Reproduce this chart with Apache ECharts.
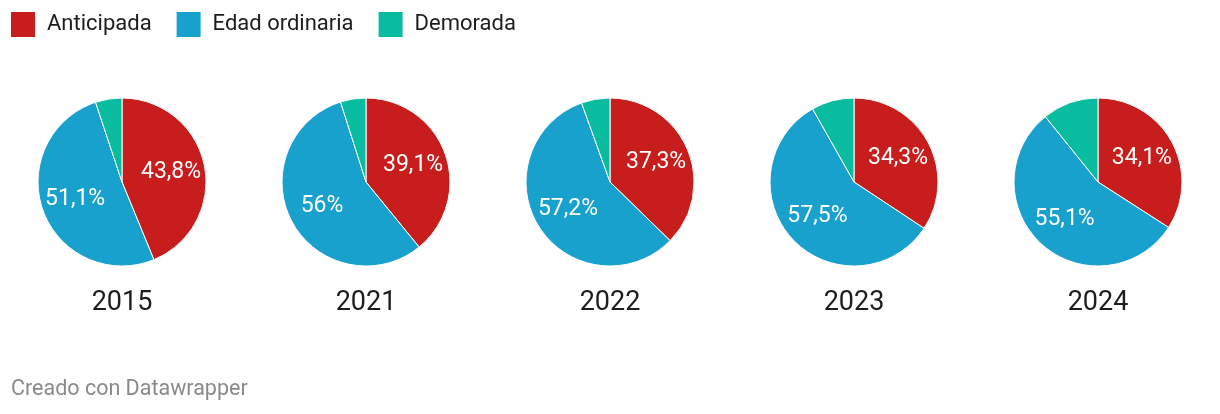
<!DOCTYPE html>
<html><head><meta charset="utf-8">
<script src="https://cdn.jsdelivr.net/npm/echarts@6/dist/echarts.min.js"></script>
<style>html,body{margin:0;padding:0;background:#fff}#c{width:1220px;height:414px}</style>
</head><body><div id="c"></div>
<script>
const years = ['2015','2021','2022','2023','2024'];
const categories = ['Anticipada','Edad ordinaria','Demorada'];
const anticipada = [43.8, 39.1, 37.3, 34.3, 34.1];
const ordinaria = [51.1, 56, 57.2, 57.5, 55.1];
const demorada = [5.1, 4.9, 5.5, 8.2, 10.8];
const colors = ['#c71e1d','#18a1cd','#09bb9f'];
const centersX = [122, 366, 610, 854, 1098];
const cy = 182, R = 84;

const series = [];
const graphic = [];
years.forEach((y, i) => {
  const data = [
    {name: categories[0], value: anticipada[i]},
    {name: categories[1], value: ordinaria[i]},
    {name: categories[2], value: demorada[i]}
  ];
  series.push({
    type: 'pie', center: [centersX[i], cy], radius: [0, R],
    startAngle: 90, clockwise: true, silent: true, animation: false,
    itemStyle: {borderColor: '#fff', borderWidth: 1},
    label: {show: false}, labelLine: {show: false},
    data: data
  });
  series.push({
    type: 'pie', center: [centersX[i], cy], radius: [10, R],
    startAngle: 90, clockwise: true, silent: true, animation: false,
    legendHoverLink: false,
    itemStyle: {color: 'rgba(0,0,0,0)', borderWidth: 0},
    label: {
      show: true, position: 'inside', color: '#fff', fontSize: 23,
      fontFamily: 'Roboto',
      formatter: p => p.dataIndex === 2 ? '' : String(p.value).replace('.', ',') + '%'
    },
    labelLine: {show: false},
    data: data.map(d => ({name: d.name + ' ', value: d.value}))
  });
  graphic.push({
    type: 'text', x: centersX[i], y: 303,
    style: {text: y, fontSize: 27, fontFamily: 'Roboto', fill: '#1d1d1d', textAlign: 'center', textVerticalAlign: 'middle'}
  });
});
graphic.push({
  type: 'text', x: 11, y: 390,
  style: {text: 'Creado con Datawrapper', fontSize: 21.5, fontFamily: 'Roboto', fill: '#8a8a8a', textVerticalAlign: 'middle'}
});

const chart = echarts.init(document.getElementById('c'));
chart.setOption({
  animation: false,
  color: colors,
  legend: {
    data: categories, left: 9, top: 10, padding: 0, itemWidth: 26, itemHeight: 27, itemGap: 23,
    icon: 'rect', selectedMode: false,
    textStyle: {fontSize: 22, fontFamily: 'Roboto', color: '#1d1d1d', padding: [0,0,0,6]}
  },
  series: series,
  graphic: graphic
});
</script></body></html>
